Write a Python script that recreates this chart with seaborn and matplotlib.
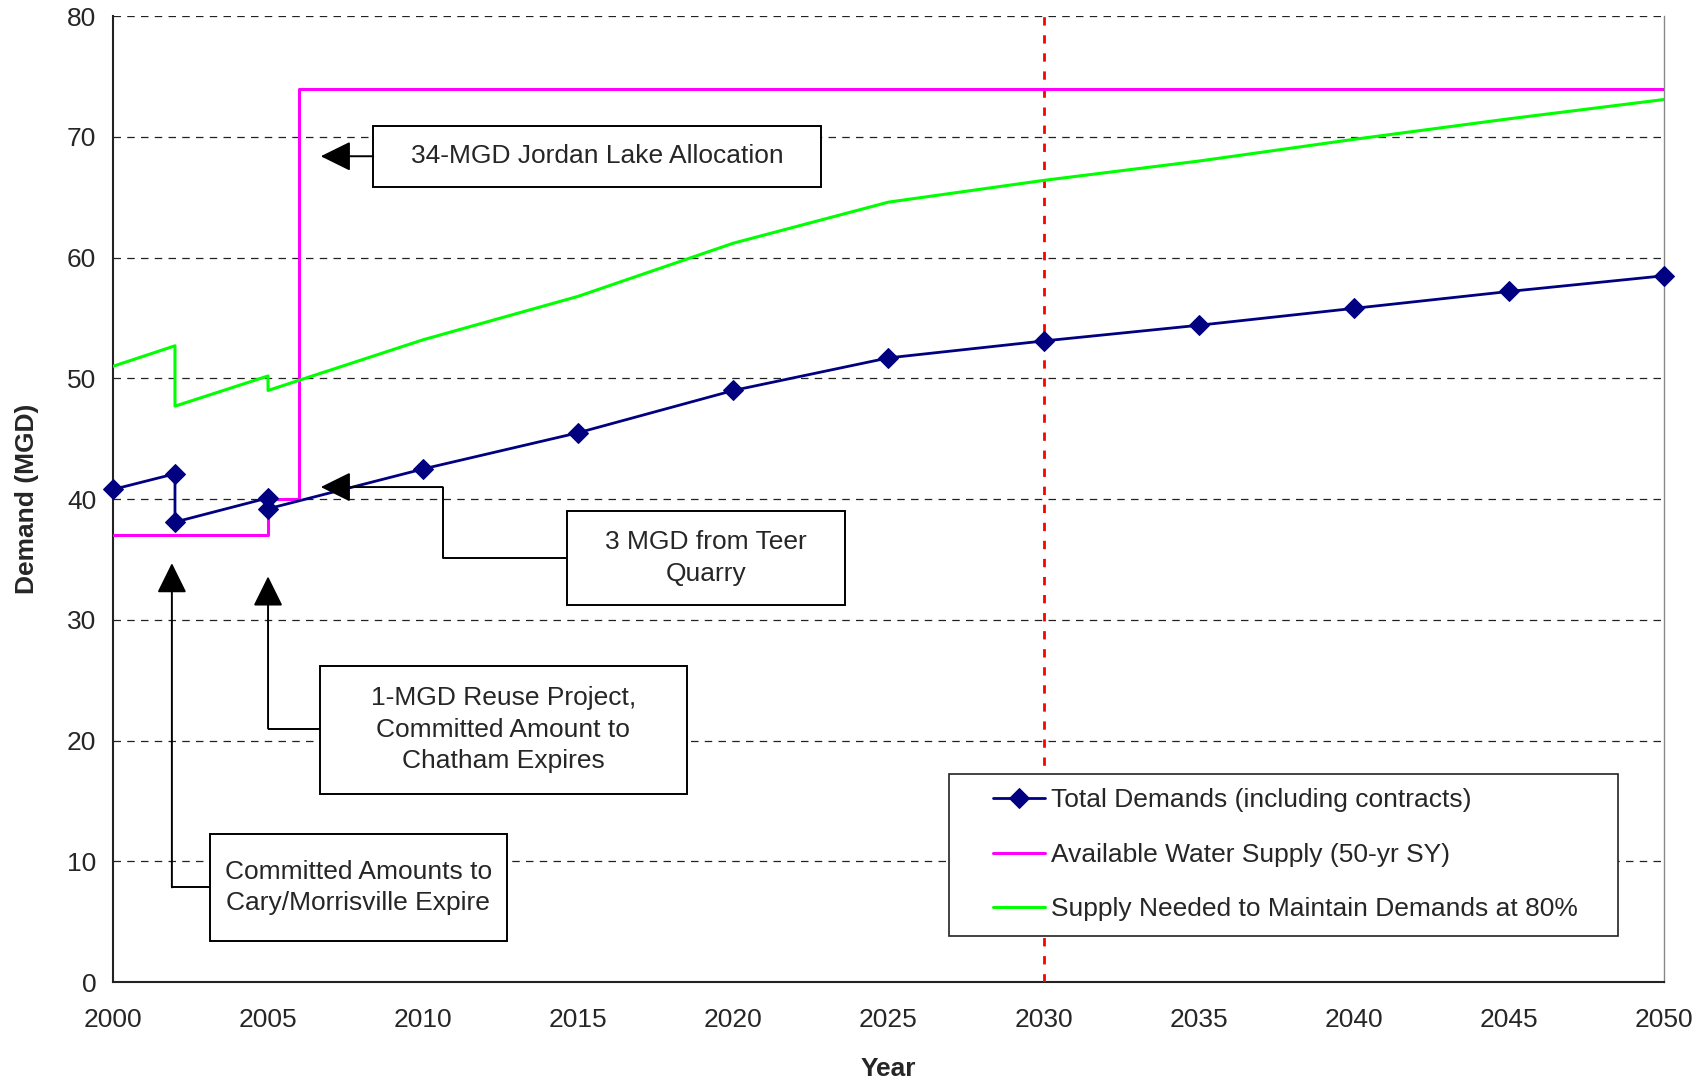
import matplotlib
matplotlib.use("Agg")
import matplotlib.pyplot as plt
import seaborn as sns
import pandas as pd
from matplotlib.patches import Rectangle
from matplotlib.lines import Line2D
from matplotlib.legend_handler import HandlerLine2D

# Total demands (duplicate years mark step changes)
demand_years = [2000, 2002, 2002, 2005, 2005, 2010, 2015, 2020, 2025, 2030, 2035, 2040, 2045, 2050]
demand_mgd = [40.8, 42.1, 38.1, 40.1, 39.2, 42.5, 45.5, 49.0, 51.7, 53.1, 54.4, 55.8, 57.2, 58.5]

# Available water supply (step line)
supply_years = [2000, 2005, 2005, 2006, 2006, 2050]
supply_mgd = [37.0, 37.0, 40.0, 40.0, 74.0, 74.0]

# Supply needed to maintain demands at 80%
needed_years = [2000, 2002, 2002, 2005, 2005, 2010, 2015, 2020, 2025, 2030, 2035, 2040, 2045, 2050]
needed_mgd = [51.0, 52.7, 47.7, 50.2, 49.0, 53.2, 56.8, 61.2, 64.6, 66.4, 68.0, 69.8, 71.5, 73.1]

planning_year = 2030

labels = ["Total Demands (including contracts)",
          "Available Water Supply (50-yr SY)",
          "Supply Needed to Maintain Demands at 80%"]

notes = ["34-MGD Jordan Lake Allocation",
         "3 MGD from Teer\nQuarry",
         "1-MGD Reuse Project,\nCommitted Amount to\nChatham Expires",
         "Committed Amounts to\nCary/Morrisville Expire"]

sns.set_style("white")
plt.rcParams['font.family'] = ['Liberation Sans', 'DejaVu Sans']
FS = 19

fig = plt.figure(figsize=(17.06, 10.8), dpi=100)
ax = fig.add_axes([0.0662, 0.0907, 0.9092, 0.8943])

df_d = pd.DataFrame({"Year": demand_years, "MGD": demand_mgd})
df_s = pd.DataFrame({"Year": supply_years, "MGD": supply_mgd})
df_n = pd.DataFrame({"Year": needed_years, "MGD": needed_mgd})

sns.lineplot(data=df_d, x="Year", y="MGD", estimator=None, sort=False, ax=ax,
             color="#000080", lw=2, marker="D", markersize=10, markeredgecolor="#000080",
             label=labels[0], zorder=5, clip_on=False)
sns.lineplot(data=df_s, x="Year", y="MGD", estimator=None, sort=False, ax=ax,
             color="#ff00ff", lw=2.2, label=labels[1], zorder=4)
sns.lineplot(data=df_n, x="Year", y="MGD", estimator=None, sort=False, ax=ax,
             color="#00ff00", lw=2.2, label=labels[2], zorder=4)

ax.axvline(planning_year, color="red", lw=2, ls=(0, (3, 3.5)), zorder=3)

ax.set_xlim(2000, 2050)
ax.set_ylim(0, 80)
ax.set_xticks(range(2000, 2051, 5))
ax.set_yticks(range(0, 81, 10))
ax.yaxis.grid(True, color="#222222", lw=0.9, ls=(0, (6, 5)))
ax.xaxis.grid(False)
ax.tick_params(axis="both", labelsize=FS, length=7, width=1, direction="out", color="#555555")
ax.tick_params(axis="x", pad=12)
ax.tick_params(axis="y", pad=5)
ax.set_xlabel("Year", fontsize=FS, fontweight="bold", labelpad=18)
ax.set_ylabel("Demand (MGD)", fontsize=FS, fontweight="bold", labelpad=20)

for side in ["left", "bottom"]:
    ax.spines[side].set_color("#222222")
    ax.spines[side].set_linewidth(1.5)
ax.spines["right"].set_color("#888888")
ax.spines["right"].set_linewidth(1)
ax.spines["top"].set_visible(False)

# annotation boxes: (x0, x1, y0, y1)
boxes = [(2008.39, 2022.84, 65.86, 70.9),
         (2014.63, 2023.61, 31.26, 39.0),
         (2006.67, 2018.49, 15.6, 26.2),
         (2003.12, 2012.70, 3.42, 12.25)]
for (x0, x1, y0, y1), txt in zip(boxes, notes):
    ax.add_patch(Rectangle((x0, y0), x1 - x0, y1 - y0, facecolor="white",
                           edgecolor="black", lw=1.4, zorder=6))
    ax.text((x0 + x1) / 2, (y0 + y1) / 2, txt, ha="center", va="center",
            fontsize=FS, linespacing=1.4, zorder=7)

# connector polylines, last point is the arrow tip
connectors = [[(2008.39, 68.4), (2006.7, 68.4)],
              [(2014.63, 35.1), (2010.63, 35.1), (2010.63, 41.0), (2006.7, 41.0)],
              [(2006.67, 21.0), (2005.0, 21.0), (2005.0, 33.6)],
              [(2003.12, 7.84), (2001.9, 7.84), (2001.9, 34.7)]]
arrow = dict(arrowstyle="-|>,head_length=0.85,head_width=0.42", color="black",
             lw=1.4, mutation_scale=22, shrinkA=0, shrinkB=0)
for pts in connectors:
    if len(pts) > 2:
        xs, ys = zip(*pts[:-1])
        ax.plot(xs, ys, color="black", lw=1.4, zorder=6, solid_capstyle="butt")
    ax.annotate("", xy=pts[-1], xytext=pts[-2], arrowprops=arrow, zorder=6)

leg = ax.legend(loc="lower left", bbox_to_anchor=(0.539, 0.048, 0.4316, 0.168),
                mode="expand", fontsize=FS, frameon=True, fancybox=False,
                framealpha=1, edgecolor="#222222", handlelength=3.1,
                handletextpad=0.2, labelspacing=1.15, borderpad=0.55,
                borderaxespad=0, handler_map={Line2D: HandlerLine2D(xpad=1.1)})
leg.get_frame().set_linewidth(1.2)
leg.set_zorder(8)

fig.savefig("out.png", dpi=100, facecolor="white")
